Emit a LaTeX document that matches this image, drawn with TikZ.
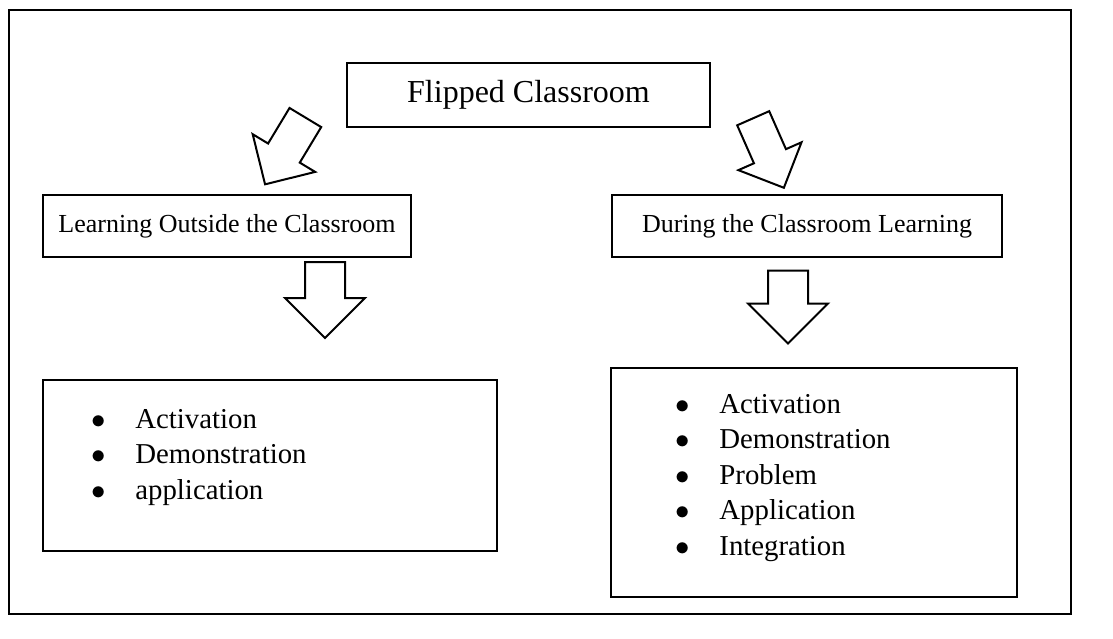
\documentclass[tikz,border=0pt]{standalone}
\usepackage{fontspec}
\setmainfont{Liberation Serif}
\usetikzlibrary{shapes.arrows,positioning}

\newcommand{\itm}[1]{\makebox[22pt][l]{$\bullet$}#1}

\begin{document}
\begin{tikzpicture}[x=0.5pt,y=-0.5pt,
  box/.style={draw, line width=1pt, inner sep=0, font=\fontsize{13}{16}\selectfont},
  blockarrow/.style={single arrow, draw, line width=1pt, inner xsep=0, minimum height=38pt, inner ysep=9.5pt, single arrow head extend=10pt},
  items/.style={align=left, inner sep=0, anchor=north west, font=\fontsize{14.4}{17.75}\selectfont}]

\useasboundingbox (0,0) rectangle (1113,638);
\draw[line width=1.3pt] (9,10) rectangle (1071,614);

\node[box, font=\fontsize{16}{19}\selectfont, minimum width=181.5pt, minimum height=32pt] (flip) at (528.5,95) {Flipped Classroom};

\node[box, minimum width=184pt, minimum height=31pt] (outBox) at (227,226) {Learning Outside the Classroom};
\node[box, minimum width=195pt, minimum height=31pt] (inBox) at (807,226) {During the Classroom Learning};

% lists
\node[box, minimum width=227pt, minimum height=85.5pt] (outList) at (270,465.5) {};
\node[box, minimum width=203pt, minimum height=114.5pt] (inList) at (814,482.5) {};
\node[items] (outItems) at (91,409) {\itm{Activation}\\ \itm{Demonstration}\\ \itm{application}};
\node[items] (inItems) at (675,394) {\itm{Activation}\\ \itm{Demonstration}\\ \itm{Problem}\\ \itm{Application}\\ \itm{Integration}};

% arrows
\node[blockarrow, minimum height=39pt, inner ysep=8.75pt, single arrow head extend=9pt, rotate=238.9] (dgL) at (290,143) {};
\node[blockarrow, minimum height=38pt, inner ysep=8.25pt, single arrow head extend=8.5pt, rotate=-66.2] (dgR) at (765,145) {};
\node[blockarrow, rotate=-90] (dnL) at (325,290) {};
\node[blockarrow, minimum height=36.5pt, rotate=-90] (dnR) at (788,297) {};
\end{tikzpicture}
\end{document}
